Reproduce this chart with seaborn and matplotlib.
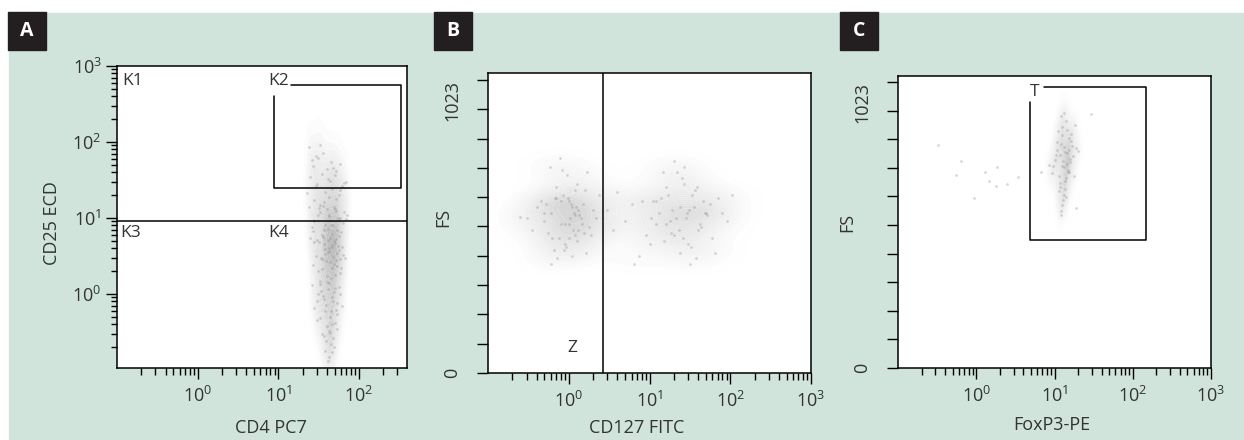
import numpy as np
import matplotlib
matplotlib.use('Agg')
import matplotlib.pyplot as plt
from matplotlib.patches import Rectangle
from matplotlib.colors import LinearSegmentedColormap
import seaborn as sns

# Panel A: CD4 PC7 (x) vs CD25 ECD (y)
cd4_x = [24, 31, 27, 45, 36, 52, 29, 40, 33, 58, 26, 48,
         25, 30, 38, 44, 52, 61, 28, 35, 47, 56, 33, 41, 66, 23, 50, 37, 29, 58, 43, 70,
         24, 28, 33, 37, 42, 46, 51, 55, 60, 65, 26, 31, 35, 40, 44, 49, 53, 58, 63, 72,
         27, 32, 38, 43, 47, 52, 57, 36, 41, 69,
         25, 29, 32, 35, 38, 41, 44, 47, 50, 53, 56, 59, 62, 27, 30, 34, 37, 40, 43, 46,
         49, 52, 55, 58, 64, 28, 31, 36, 39, 42, 45, 48, 51, 54, 57, 33, 38, 44, 49, 46,
         41, 35, 52, 60, 67,
         26, 30, 34, 38, 42, 46, 50, 54, 58, 62, 28, 33, 37, 41, 45, 49, 53, 57, 36, 44,
         40, 48, 31, 52, 39,
         30, 35, 40, 45, 50, 38, 43, 48, 33, 53, 42, 46, 37, 49, 41, 44, 39, 47]
cd25_y = [85, 62, 48, 55, 72, 41, 66, 44, 90, 52, 58, 46,
          35, 28, 22, 31, 18, 26, 17, 38, 24, 20, 15, 33, 29, 21, 37, 16, 26, 23, 19, 30,
          14, 9, 12, 7, 11, 8, 13, 10, 6.5, 12, 7.5, 11, 6, 13, 9.5, 14, 7, 10, 8.5, 11,
          6.8, 13.5, 8, 10.5, 6.2, 12.5, 9, 14.5, 7.2, 9.8,
          5.5, 3.2, 4.8, 2.1, 3.9, 5.1, 2.6, 4.4, 1.8, 3.5, 5.8, 2.9, 4.1, 2.4, 5.2, 3.0,
          4.6, 1.7, 3.7, 2.2, 5.0, 2.8, 4.3, 1.9, 3.3, 4.9, 2.0, 5.7, 2.7, 4.0, 1.6, 3.1,
          4.7, 2.3, 3.8, 1.5, 3.4, 5.4, 2.5, 4.2, 3.6, 2.9, 5.3, 2.2, 3.0,
          1.3, 0.8, 1.1, 0.6, 1.4, 0.9, 1.2, 0.55, 1.0, 0.7, 0.65, 1.35, 0.85, 1.15, 0.6,
          1.05, 0.75, 1.25, 0.95, 0.5, 1.45, 0.8, 1.0, 0.62, 0.72,
          0.45, 0.3, 0.38, 0.22, 0.42, 0.18, 0.33, 0.26, 0.48, 0.35, 0.15, 0.4, 0.28, 0.2,
          0.13, 0.31, 0.24, 0.17]

# Panel B: CD127 FITC (x) vs FS (y), two populations
cd127_x = [0.6, 0.8, 1.0, 1.2, 1.4, 0.7, 0.9, 1.1, 1.3, 1.6, 0.5, 0.75, 0.95, 1.15, 1.5,
           1.8, 0.65, 0.85, 1.05, 1.25, 2.0, 0.45, 0.55, 0.7, 0.9, 1.1, 1.35, 1.7, 2.2,
           0.4, 0.6, 0.8, 1.0, 1.2, 1.45, 0.35, 0.58, 0.88, 1.08, 1.28, 1.9, 0.5, 0.72,
           0.98, 1.18, 1.55, 2.4, 0.3, 0.62, 0.82, 1.02, 1.22, 0.68, 0.92, 1.12, 0.78,
           1.32, 0.52, 1.65, 0.25,
           8, 12, 16, 20, 24, 28, 34, 40, 48, 56, 10, 14, 18, 22, 26, 31, 37, 44, 52, 65,
           6, 9, 13, 17, 21, 25, 30, 36, 42, 70, 5, 7.5, 11, 15, 19, 23, 27, 33, 39, 80,
           4, 6.5, 10.5, 14.5, 18.5, 29, 46, 60, 90, 3.5, 24, 32, 20, 16, 12, 50, 38, 27,
           105, 3]
fs_b = [560, 520, 600, 480, 540, 610, 450, 580, 500, 640, 530, 470, 690, 560, 590,
        510, 430, 620, 540, 460, 570, 600, 490, 650, 520, 410, 550, 700, 540,
        580, 380, 600, 470, 640, 520, 500, 720, 430, 590, 660, 480, 560, 400,
        610, 550, 490, 620, 540, 470, 710, 520, 580, 610, 440, 500, 750,
        570, 590, 420, 545,
        600, 520, 650, 480, 580, 540, 620, 500, 560, 590, 450, 610, 530, 700, 470, 570,
        640, 510, 550, 420, 590, 480, 560, 620, 540, 680, 450, 580, 520, 610, 530, 410,
        600, 460, 570, 500, 720, 440, 650, 560, 630, 380, 540, 700, 490, 560, 600, 470,
        530, 500, 420, 380, 740, 520, 600, 560, 400, 660, 620, 570]

# Panel C: FoxP3-PE (x) vs FS (y), main population inside gate T
foxp3_x = [10.4, 12.1, 13.3, 14.6, 15.2, 11.3, 12.7, 13.9, 16.1, 17.2, 9.6, 11.7, 12.4,
           14.9, 18.3, 10.7, 13.1, 15.6, 12.2, 14.1, 11.1, 13.6, 16.7, 12.9, 14.3, 9.2,
           11.9, 13.8, 15.4, 19.1, 10.2, 12.5, 14.7, 17.6, 11.4, 13.2, 15.9, 12.6, 10.9,
           14.4, 13.7, 12.3, 16.4, 11.6, 15.1, 12.0, 13.4, 14.2, 20.2, 8.6,
           # scattered events left of the gate
           0.32, 0.64, 0.55, 0.94, 1.3, 1.47, 1.8, 1.86, 2.5, 3.4, 6.8, 12, 18.6, 29]
fs_c = [762, 803, 718, 852, 781, 688, 742, 884, 812, 757, 723, 648, 833, 701, 868, 779,
        618, 738, 902, 679, 848, 772, 796, 602, 731, 697, 764, 642, 822, 788, 745,
        861, 709, 686, 633, 792, 748, 583, 808, 771, 668, 724, 838, 661,
        703, 562, 912, 612, 778, 728,
        797, 740, 690, 607, 703, 671, 653, 718, 657, 682, 703, 546, 574, 908]

# gates
k_split_y = 9.1
k2_x = [14.5, 331, 331, 8.9, 8.9]
k2_y = [562, 562, 24.8, 24.8, 403]
z_split_x = 2.63
t_x = [7.4, 147, 147, 4.9, 4.9]
t_y = [1005, 1005, 459, 459, 951]
fs_ticks = np.linspace(0, 1023, 11)

sns.set_style('ticks')
plt.rcParams['font.family'] = ['Open Sans', 'DejaVu Sans']
plt.rcParams['mathtext.default'] = 'regular'

txt = '#333333'
dot = dict(color='#8f8f8f', s=4, alpha=0.35, linewidth=0)

fig = plt.figure(figsize=(12.44, 4.40), dpi=100)
fig.patches.append(Rectangle((9 / 1244, 0), 1, (440 - 13) / 440,
                             transform=fig.transFigure, color='#d0e4dc', zorder=-5))

W, H = 1244, 440


def make_ax(l, t, r, b):
    return fig.add_axes([l / W, (H - b) / H, (r - l) / W, (b - t) / H])


def style(ax):
    ax.set_facecolor('white')
    for s in ax.spines.values():
        s.set_color('black')
        s.set_linewidth(1.1)
    ax.tick_params(which='both', direction='out', color='black', width=1.0,
                   labelcolor=txt, labelsize=13)
    ax.tick_params(axis='x', which='major', length=8, pad=5)
    ax.tick_params(axis='x', which='minor', length=5)


def cloud(ax, x, y, log_scale, darkest, bw=1.0):
    cmap = LinearSegmentedColormap.from_list('haze', ['white', darkest])
    sns.kdeplot(x=x, y=y, ax=ax, fill=True, cmap=cmap, levels=25, thresh=0.02,
                bw_adjust=bw, log_scale=log_scale, antialiased=True)
    sns.scatterplot(x=x, y=y, ax=ax, **dot)


def letter(x, s):
    fig.patches.append(Rectangle((x / W, (H - 50) / H), 38 / W, 38 / H,
                                 transform=fig.transFigure, color='#231f20', zorder=2))
    fig.text((x + 19) / W, (H - 31) / H, s, color='white', fontsize=14,
             fontweight='bold', ha='center', va='center', zorder=3)


# ---- A
axA = make_ax(117, 66, 407, 368)
cloud(axA, cd4_x, cd25_y, True, '#bdbdbd', bw=0.9)
axA.set_xscale('log')
axA.set_yscale('log')
axA.set_xlim(0.1, 395)
axA.set_ylim(0.106, 1000)
axA.set_xticks([1, 10, 100])
axA.set_yticks([1, 10, 100, 1000])
style(axA)
axA.tick_params(axis='y', which='major', length=8, pad=3)
axA.tick_params(axis='y', which='minor', length=4)
axA.axhline(k_split_y, color='black', lw=1.1)
axA.plot(k2_x, k2_y, color='black', lw=1.1)
for lab, xx, yy in [('K1', 0.115, 635), ('K2', 7.5, 635), ('K3', 0.109, 6.3), ('K4', 7.5, 6.3)]:
    axA.text(xx, yy, lab, fontsize=12.5, color=txt, ha='left', va='center')
axA.set_xlabel('CD4 PC7', fontsize=13, color=txt)
axA.set_ylabel('CD25 ECD', fontsize=13, color=txt)
axA.xaxis.set_label_coords(0.53, -0.2)
axA.xaxis.label.set_va('center')
axA.yaxis.set_label_coords(-0.225, 0.48)
axA.yaxis.label.set_va('center')
letter(8, 'A')


def fs_axis(ax, top):
    ax.set_xscale('log')
    ax.set_xlim(0.1, 1000)
    ax.set_ylim(0, top)
    ax.set_xticks([1, 10, 100, 1000])
    ax.set_yticks(fs_ticks)
    labs = ['0'] + [''] * 9 + ['1023']
    ax.set_yticklabels(labs, rotation=90)
    style(ax)
    ax.tick_params(axis='y', which='major', length=8, pad=11)
    ticklabs = ax.get_yticklabels()
    ticklabs[0].set_va('center')
    ticklabs[-1].set_va('top')


# ---- B
axB = make_ax(488, 73, 811, 373)
cloud(axB, cd127_x, fs_b, (True, False), '#d6d6d6', bw=0.8)
fs_axis(axB, 1047)
axB.axvline(z_split_x, color='black', lw=1.1)
axB.text(1.12, 87, 'Z', fontsize=12.5, color=txt, ha='center', va='center')
axB.set_xlabel('CD127 FITC', fontsize=13, color=txt)
axB.set_ylabel('FS', fontsize=13, color=txt)
axB.xaxis.set_label_coords(0.46, -0.183)
axB.xaxis.label.set_va('center')
axB.yaxis.set_label_coords(-0.14, 0.52)
axB.yaxis.label.set_va('center')
letter(434, 'B')

# ---- C
axC = make_ax(898, 76, 1211, 368)
cloud(axC, foxp3_x[:50], fs_c[:50], (True, False), '#cccccc')
sns.scatterplot(x=foxp3_x[50:], y=fs_c[50:], ax=axC, **dot)
fs_axis(axC, 1045)
axC.plot(t_x, t_y, color='black', lw=1.1)
axC.text(4.9, 988, 'T', fontsize=12.5, color=txt, ha='left', va='center')
axC.set_xlabel('FoxP3-PE', fontsize=13, color=txt)
axC.set_ylabel('FS', fontsize=13, color=txt)
axC.xaxis.set_label_coords(0.49, -0.195)
axC.xaxis.label.set_va('center')
axC.yaxis.set_label_coords(-0.163, 0.5)
axC.yaxis.label.set_va('center')
letter(840, 'C')

fig.savefig('out.png', dpi=100, facecolor='white')
